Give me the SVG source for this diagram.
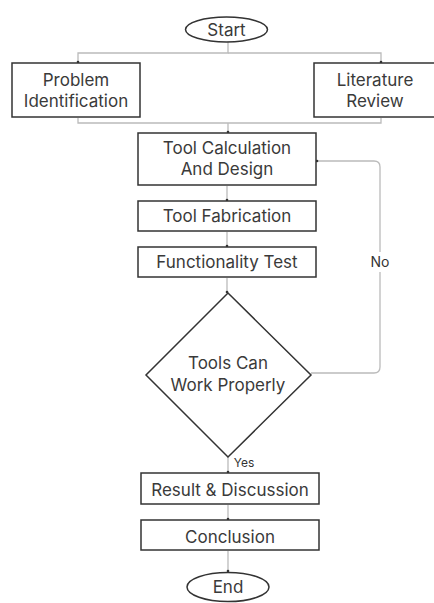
<svg xmlns="http://www.w3.org/2000/svg" width="434" height="603" viewBox="0 0 434 603">
<style>
.n{fill:#fff;stroke:#333;stroke-width:1.5}
.t{font-family:Inter,"Liberation Sans",sans-serif;font-size:17px;fill:#3a3a3a;text-anchor:middle}
.c{fill:none;stroke:#bbb;stroke-width:1.3}
.l{font-family:Inter,"Liberation Sans",sans-serif;fill:#333;text-anchor:middle}
</style>
<defs>
<marker id="a" markerWidth="4" markerHeight="4" refX="2" refY="2" orient="auto" markerUnits="userSpaceOnUse"><circle cx="2" cy="2" r="1.3" fill="#333"/></marker>
</defs>
<rect width="434" height="603" fill="#fff"/>
<g id="connectors">
<path class="c" d="M228 42V53H78V62" marker-end="url(#a)"/>
<path class="c" d="M228 53H381V62" marker-end="url(#a)"/>
<path class="c" d="M78 118V123H381V118"/>
<path class="c" d="M228 123V132" marker-end="url(#a)"/>
<path class="c" d="M227 186V200" marker-end="url(#a)"/>
<path class="c" d="M227 232V246" marker-end="url(#a)"/>
<path class="c" d="M227 278V292" marker-end="url(#a)"/>
<path class="c" d="M311 373H374Q380 373 380 367V167Q380 161 374 161H317" marker-end="url(#a)"/>
<path class="c" d="M228 457V472" marker-end="url(#a)"/>
<path class="c" d="M228 505V519" marker-end="url(#a)"/>
<path class="c" d="M228 551V571" marker-end="url(#a)"/>
<rect x="368" y="252" width="24" height="20" fill="#fff"/>
<text class="l" x="380" y="267" font-size="14">No</text>
<text class="l" x="244" y="467" font-size="12">Yes</text>
</g>
<g id="start"><ellipse class="n" cx="226.5" cy="29.5" rx="41" ry="12.5"/><text class="t" x="226.5" y="35.5">Start</text></g>
<g id="problem"><rect class="n" x="12" y="63" width="128" height="54"/><text class="t" x="76" y="86">Problem</text><text class="t" x="76" y="107">Identification</text></g>
<g id="literature"><rect class="n" x="314" y="63" width="130" height="54"/><text class="t" x="375" y="86">Literature</text><text class="t" x="375" y="107">Review</text></g>
<g id="calc"><rect class="n" x="138" y="133" width="178" height="52"/><text class="t" x="227" y="154">Tool Calculation</text><text class="t" x="227" y="175">And Design</text></g>
<g id="fab"><rect class="n" x="138" y="201" width="178" height="30"/><text class="t" x="227" y="222">Tool Fabrication</text></g>
<g id="func"><rect class="n" x="138" y="247" width="178" height="30"/><text class="t" x="227" y="268">Functionality Test</text></g>
<g id="decision"><polygon class="n" points="228,293 311,375 228,457 146,375"/><text class="t" x="228" y="369">Tools Can</text><text class="t" x="228" y="391">Work Properly</text></g>
<g id="result"><rect class="n" x="141" y="473" width="178" height="31"/><text class="t" x="230" y="496">Result &amp; Discussion</text></g>
<g id="conclusion"><rect class="n" x="141" y="520" width="178" height="30"/><text class="t" x="230" y="543">Conclusion</text></g>
<g id="end"><ellipse class="n" cx="228" cy="587" rx="41" ry="14.5"/><text class="t" x="228" y="593">End</text></g>
</svg>
